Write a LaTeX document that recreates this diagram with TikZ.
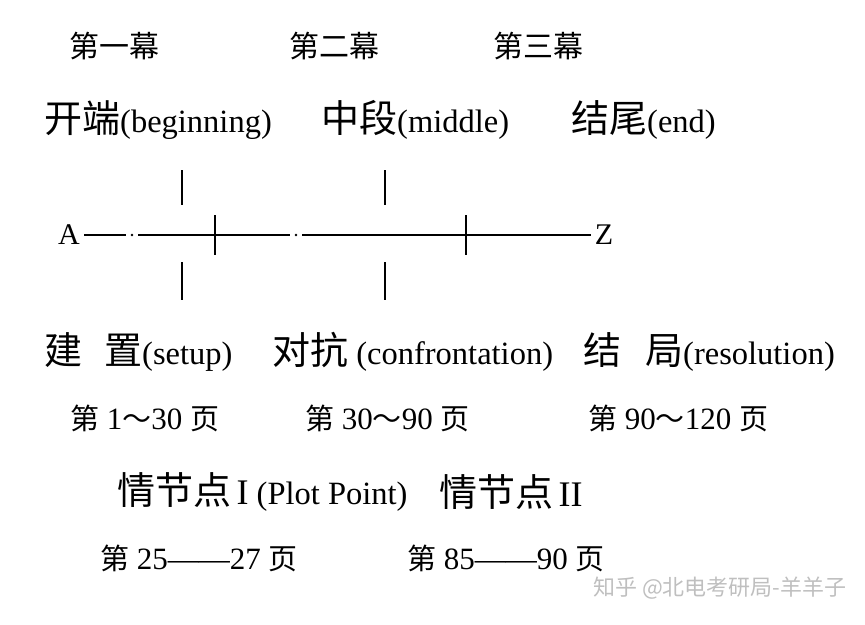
\documentclass[tikz,border=0pt]{standalone}
\usepackage{fontspec}
\setmainfont{Liberation Serif}
\newfontfamily\cjk{Noto Sans CJK SC}
\usepackage{xcolor}

\newcommand{\zhbig}[1]{{\cjk\fontsize{38}{44}\selectfont #1}}
\newcommand{\zhmid}[1]{{\cjk\fontsize{29}{34}\selectfont #1}}

\begin{document}
\begin{tikzpicture}[x=1pt,y=-1pt,
    act/.style={anchor=west,inner sep=0pt,font=\cjk\fontsize{30}{36}\selectfont},
    part/.style={anchor=west,inner sep=0pt,font=\fontsize{32.5}{38}\selectfont},
    pages/.style={anchor=west,inner sep=0pt,font=\fontsize{31}{36}\selectfont},
    axis/.style={line width=2.6pt},
    mark line/.style={line width=2.6pt}]
\useasboundingbox (0,0) rectangle (865,624);

% the three acts
\node[act] (act1) at (69,46) {第一幕};
\node[act] (act2) at (289,46) {第二幕};
\node[act] (act3) at (493,46) {第三幕};

\node[part] (beginning) at (44,120) {\zhbig{开端}(beginning)};
\node[part] (middle) at (321,120) {\zhbig{中段}(middle)};
\node[part] (end) at (571,120) {\zhbig{结尾}(end)};

% the line from A to Z
\node[part,anchor=center,inner sep=4pt,font=\fontsize{30}{36}\selectfont] (A) at (69,235) {A};
\node[part,anchor=center,inner sep=4pt,font=\fontsize{30}{36}\selectfont] (Z) at (604,235) {Z};
\coordinate (dot1) at (132,235);
\coordinate (dot2) at (296,235);
\draw[axis] (A.east) -- ([xshift=-6pt]dot1);
\draw[axis] ([xshift=6pt]dot1) -- ([xshift=-6pt]dot2);
\draw[axis] ([xshift=6pt]dot2) -- (Z.west);
\fill (dot1) circle (1.4);
\fill (dot2) circle (1.4);
\foreach \x in {215,466}
    \draw[mark line] (\x,215) -- (\x,255);
\foreach \x in {182,385}
    \draw[mark line] (\x,170) -- (\x,205) (\x,262) -- (\x,300);

\node[part] (setup) at (44,352) {\zhbig{建}\hspace{22pt}\zhbig{置}(setup)};
\node[part] (confront) at (272,352) {\zhbig{对抗} (confrontation)};
\node[part] (resolution) at (583,352) {\zhbig{结}\hspace{24pt}\zhbig{局}(resolution)};

% page ranges
\node[pages] (pages1) at (70,418) {\zhmid{第} 1\zhmid{～}30 \zhmid{页}};
\node[pages] (pages2) at (305,418) {\zhmid{第} 30\zhmid{～}90 \zhmid{页}};
\node[pages] (pages3) at (588,418) {\zhmid{第} 90\zhmid{～}120 \zhmid{页}};

% plot points
\node[part] (point1) at (117,492) {\zhbig{情节点}\,{\fontsize{36}{40}\selectfont I} (Plot Point)};
\node[part] (point2) at (439,492) {\zhbig{情节点}\,{\fontsize{36}{40}\selectfont II}};

\node[pages] (range1) at (100,558) {\zhmid{第} 25——27 \zhmid{页}};
\node[pages] (range2) at (407,558) {\zhmid{第} 85——90 \zhmid{页}};

\node[anchor=west,inner sep=0pt,text=black!25,font=\cjk\fontsize{22}{26}\selectfont] (mark) at (593,588) {知乎 @北电考研局-羊羊子};

\end{tikzpicture}
\end{document}
